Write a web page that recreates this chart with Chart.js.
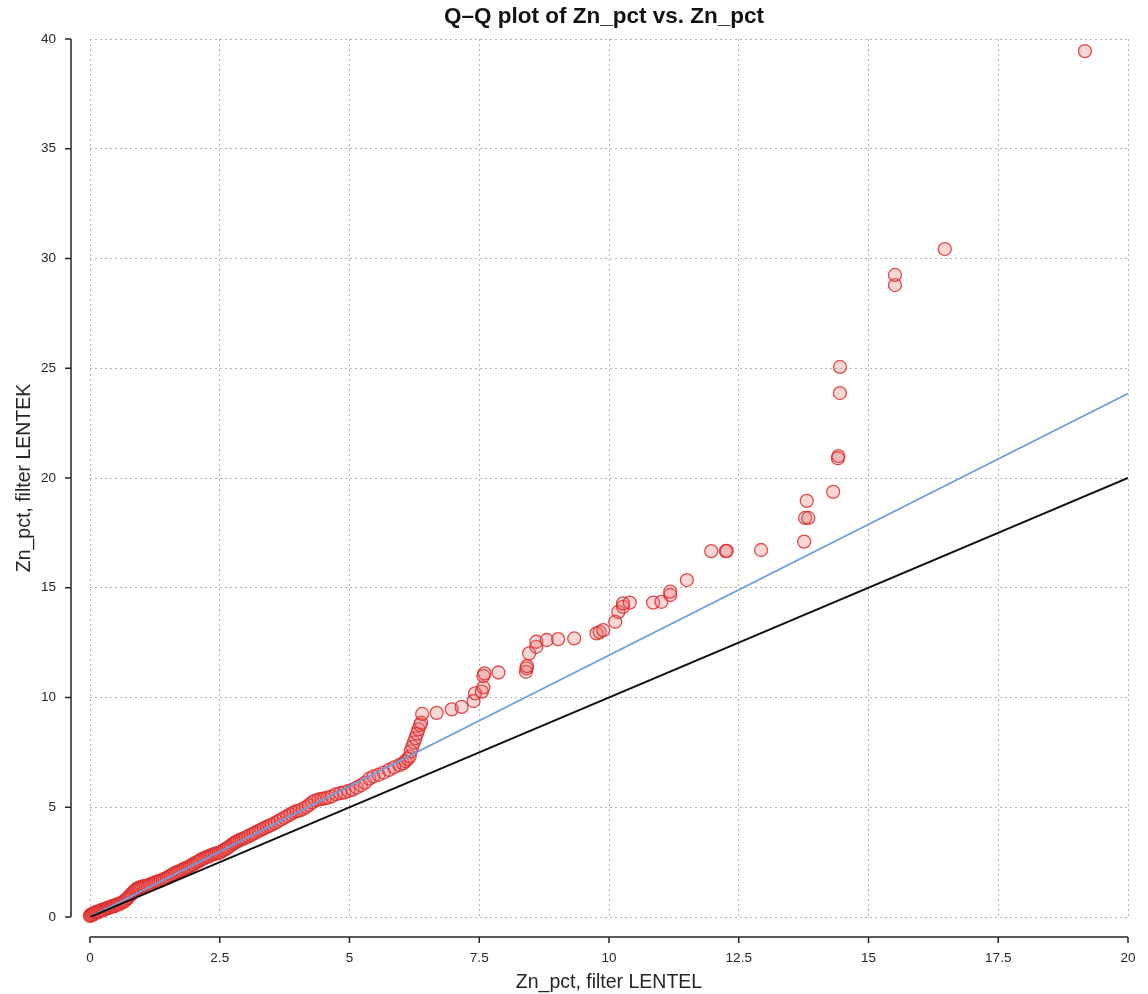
<!DOCTYPE html>
<html>
<head>
<meta charset="utf-8">
<script src="https://cdn.jsdelivr.net/npm/chart.js@4.4.0/dist/chart.umd.min.js"></script>
<style>
  html, body { margin: 0; padding: 0; background: #fff; }
  #wrap { width: 1148px; height: 994px; }
</style>
</head>
<body>
<div id="wrap"><canvas id="qq"></canvas></div>
<script>
// Quantiles (x: filter LENTEL, y: filter LENTEK)
const lentelQ = [
  0.00, 0.01, 0.03, 0.05, 0.07, 0.09, 0.12, 0.15, 0.18, 0.21, 0.24, 0.27, 0.30, 0.33, 0.36, 0.39,
  0.42, 0.45, 0.48, 0.51, 0.54, 0.57, 0.60, 0.63, 0.66, 0.69, 0.72, 0.75, 0.78, 0.81, 0.84, 0.87,
  0.90, 0.93, 0.96, 1.00, 1.04, 1.08, 1.12, 1.16, 1.20, 1.24, 1.28, 1.32, 1.36, 1.40, 1.44, 1.48,
  1.52, 1.56, 1.60, 1.64, 1.68, 1.72, 1.76, 1.80, 1.84, 1.88, 1.92, 1.96, 2.00, 2.04, 2.08, 2.12,
  2.16, 2.20, 2.24, 2.28, 2.32, 2.36, 2.40, 2.44, 2.48, 2.52, 2.56, 2.60, 2.64, 2.68, 2.72, 2.76,
  2.80, 2.84, 2.88, 2.92, 2.96, 3.00, 3.05, 3.10, 3.15, 3.20, 3.25, 3.30, 3.35, 3.40, 3.45, 3.50,
  3.56, 3.62, 3.68, 3.74, 3.80, 3.86, 3.92, 3.98, 4.04, 4.10, 4.16, 4.22, 4.28, 4.34, 4.40, 4.46,
  4.52, 4.58, 4.66, 4.74, 4.82, 4.90, 4.98, 5.06, 5.14, 5.22, 5.30, 5.38, 5.46, 5.56, 5.66, 5.76,
  5.86, 5.96, 6.03, 6.08, 6.12, 6.16, 6.18, 6.21, 6.24, 6.27, 6.30, 6.33, 6.36, 6.38, 6.40,
  6.68, 6.97, 7.16, 7.39, 7.42, 7.55, 7.58, 7.58, 7.60, 7.87, 8.40, 8.41, 8.42, 8.46,
  8.60, 8.60, 8.80, 9.02, 9.33, 9.76, 9.82, 9.89, 10.12, 10.18, 10.27, 10.27, 10.40, 10.85, 11.01,
  11.18, 11.18, 11.50, 11.97, 12.25, 12.27, 12.93, 13.76, 13.78, 13.84, 13.81, 14.32, 14.41, 14.42,
  14.45, 14.45, 15.51, 15.51, 16.47, 19.17
];
const lentekQ = [
  0.05, 0.10, 0.08, 0.15, 0.12, 0.20, 0.22, 0.25, 0.24, 0.30, 0.33, 0.32, 0.38, 0.40, 0.44, 0.43,
  0.48, 0.52, 0.50, 0.56, 0.58, 0.60, 0.64, 0.68, 0.72, 0.78, 0.85, 0.92, 1.00, 1.08, 1.15, 1.22,
  1.28, 1.32, 1.35, 1.38, 1.40, 1.42, 1.45, 1.48, 1.52, 1.56, 1.60, 1.62, 1.66, 1.70, 1.74, 1.78,
  1.84, 1.90, 1.95, 2.00, 2.05, 2.08, 2.12, 2.18, 2.22, 2.26, 2.30, 2.36, 2.42, 2.48, 2.52, 2.58,
  2.64, 2.68, 2.72, 2.76, 2.80, 2.84, 2.88, 2.90, 2.92, 2.96, 3.02, 3.08, 3.14, 3.20, 3.27, 3.34,
  3.40, 3.45, 3.50, 3.54, 3.58, 3.62, 3.68, 3.74, 3.80, 3.86, 3.92, 3.98, 4.04, 4.10, 4.15, 4.20,
  4.28, 4.36, 4.44, 4.52, 4.60, 4.68, 4.76, 4.82, 4.86, 4.92, 5.00, 5.10, 5.22, 5.30, 5.35, 5.38,
  5.40, 5.44, 5.50, 5.60, 5.64, 5.68, 5.74, 5.80, 5.90, 6.00, 6.12, 6.30, 6.40, 6.48, 6.58, 6.70,
  6.82, 6.92, 7.00, 7.10, 7.20, 7.32, 7.55, 7.75, 7.95, 8.15, 8.35, 8.55, 8.75, 8.85, 9.25,
  9.30, 9.46, 9.57, 9.84, 10.19, 10.27, 10.46, 10.98, 11.10, 11.14, 11.17, 11.33, 11.43, 12.01,
  12.31, 12.54, 12.62, 12.66, 12.69, 12.92, 12.98, 13.07, 13.45, 13.90, 14.13, 14.29, 14.32, 14.32, 14.36,
  14.67, 14.82, 15.35, 16.67, 16.67, 16.68, 16.72, 17.10, 18.18, 18.18, 18.96, 19.37, 20.90, 21.00,
  23.87, 25.06, 28.79, 29.25, 30.43, 39.45
];

// Reference lines: identity and fitted slope
const lineX = [0, 20];
const identityY = [0, 20];
const fitY = [0, 23.85];

const xTicks = [0, 2.5, 5, 7.5, 10, 12.5, 15, 17.5, 20];
const yTicks = [0, 5, 10, 15, 20, 25, 30, 35, 40];

const titleText = 'Q\u2013Q plot of Zn_pct vs. Zn_pct';
const xLabel = 'Zn_pct, filter LENTEL';
const yLabel = 'Zn_pct, filter LENTEK';

const FONT = '"Liberation Sans", Arial, sans-serif';

// offset spines, ticks and titles (seaborn-like despined look)
const frame = {
  id: 'frame',
  afterDraw(chart) {
    const { ctx, chartArea: a, scales: { x, y } } = chart;
    const sx = a.left - 19, sy = a.bottom + 20;
    ctx.save();
    ctx.strokeStyle = '#262626';
    ctx.lineWidth = 1.5;
    ctx.beginPath();
    ctx.moveTo(sx, y.getPixelForValue(40));
    ctx.lineTo(sx, y.getPixelForValue(0));
    yTicks.forEach(v => { const p = y.getPixelForValue(v); ctx.moveTo(sx, p); ctx.lineTo(sx - 6, p); });
    ctx.moveTo(x.getPixelForValue(0), sy);
    ctx.lineTo(x.getPixelForValue(20), sy);
    xTicks.forEach(v => { const p = x.getPixelForValue(v); ctx.moveTo(p, sy); ctx.lineTo(p, sy + 6); });
    ctx.stroke();

    const cx = (a.left + a.right) / 2;
    ctx.fillStyle = '#111';
    ctx.textAlign = 'center';
    ctx.textBaseline = 'middle';
    ctx.font = 'bold 22.5px ' + FONT;
    ctx.fillText(titleText, cx - 5, 17);
    ctx.fillStyle = '#262626';
    ctx.font = '19.5px ' + FONT;
    ctx.fillText(xLabel, cx, 983);
    ctx.translate(25, (a.top + a.bottom) / 2);
    ctx.rotate(-Math.PI / 2);
    ctx.fillText(yLabel, 0, 0);
    ctx.restore();
  }
};

const ctx = document.getElementById('qq').getContext('2d');
new Chart(ctx, {
  type: 'scatter',
  data: {
    datasets: [
      {
        label: 'y = x',
        type: 'line',
        data: lineX.map((v, i) => ({ x: v, y: identityY[i] })),
        borderColor: '#111',
        borderWidth: 2,
        pointRadius: 0,
        order: 0
      },
      {
        label: 'fit',
        type: 'line',
        data: lineX.map((v, i) => ({ x: v, y: fitY[i] })),
        borderColor: '#6f9ee0',
        borderWidth: 1.8,
        pointRadius: 0,
        order: 1
      },
      {
        label: 'quantiles',
        data: lentelQ.map((v, i) => ({ x: v, y: lentekQ[i] })),
        pointRadius: 6.5,
        pointBorderWidth: 1.3,
        borderColor: 'rgba(222, 45, 45, 0.85)',
        backgroundColor: 'rgba(235, 110, 110, 0.28)',
        clip: false,
        order: 2
      }
    ]
  },
  options: {
    responsive: true,
    maintainAspectRatio: false,
    animation: false,
    layout: { padding: { left: 0, right: 20, top: 39, bottom: 0 } },
    plugins: { legend: { display: false }, title: { display: false }, tooltip: { enabled: false } },
    scales: {
      x: {
        type: 'linear',
        min: 0, max: 20,
        afterBuildTicks: s => { s.ticks = xTicks.map(v => ({ value: v })); },
        afterFit: s => { s.height = 77; s.paddingLeft = 0; s.paddingRight = 0; },
        border: { display: false, dash: [2, 3] },
        grid: { color: '#b3b3b3', lineWidth: 1, drawTicks: false },
        ticks: { color: '#262626', padding: 33, font: { family: FONT, size: 13.5 } }
      },
      y: {
        type: 'linear',
        min: 0, max: 40,
        afterBuildTicks: s => { s.ticks = yTicks.map(v => ({ value: v })); },
        afterFit: s => { s.width = 90; s.paddingTop = 0; s.paddingBottom = 0; },
        border: { display: false, dash: [2, 3] },
        grid: { color: '#b3b3b3', lineWidth: 1, drawTicks: false },
        ticks: { color: '#262626', padding: 34, font: { family: FONT, size: 13.5 } }
      }
    }
  },
  plugins: [frame]
});
</script>
</body>
</html>
